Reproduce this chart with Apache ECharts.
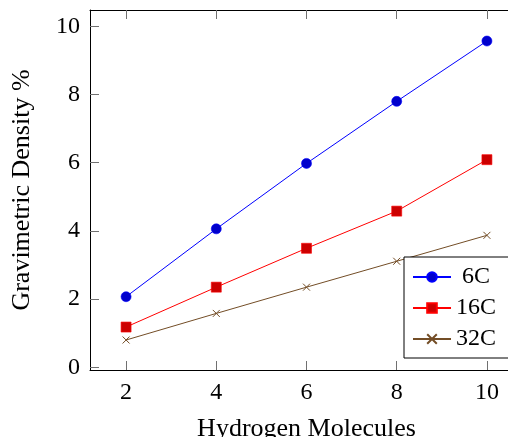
<!DOCTYPE html>
<html>
<head>
<meta charset="utf-8">
<script src="https://cdn.jsdelivr.net/npm/echarts@6/dist/echarts.min.js"></script>
<style>
html,body{margin:0;padding:0;background:#fff;}
#chart{width:508px;height:437px;}
</style>
</head>
<body>
<div id="chart"></div>
<script>
// ---- data ----
const xValues = [2, 4, 6, 8, 10];
const series6C = [2.07, 4.06, 5.98, 7.80, 9.57];
const series16C = [1.18, 2.35, 3.49, 4.58, 6.09];
const series32C = [0.80, 1.58, 2.35, 3.11, 3.87];
const xTicks = [2, 4, 6, 8, 10];
const yTicks = [0, 2, 4, 6, 8, 10];
const seriesNames = ['6C', '16C', '32C'];

const FONT = '"Liberation Serif", "Times New Roman", serif';
const chart = echarts.init(document.getElementById('chart'), null, {renderer: 'canvas'});

function pairs(vals) { return xValues.map((x, i) => [x, vals[i]]); }

const tickStyle = {show: true, inside: true, length: 9, lineStyle: {color: '#707070', width: 1}};
const axisLineStyle = {show: true, onZero: false, lineStyle: {color: '#000', width: 1}};

const option = {
  animation: false,
  backgroundColor: '#fff',
  grid: {left: 90, top: 10, width: 433, height: 360, containLabel: false, outerBoundsMode: 'none'},
  xAxis: [
    {
      type: 'value', min: 1.2, max: 10.8, position: 'bottom',
      axisLine: axisLineStyle,
      axisTick: Object.assign({customValues: xTicks}, tickStyle),
      axisLabel: {customValues: xTicks, margin: 11, fontFamily: FONT, fontSize: 24, color: '#000'},
      splitLine: {show: false},
      name: 'Hydrogen Molecules', nameLocation: 'middle', nameGap: 46,
      nameTextStyle: {fontFamily: FONT, fontSize: 26, color: '#000'}
    },
    {
      type: 'value', min: 1.2, max: 10.8, position: 'top',
      axisLine: axisLineStyle,
      axisTick: Object.assign({customValues: xTicks}, tickStyle),
      axisLabel: {show: false},
      splitLine: {show: false}
    }
  ],
  yAxis: [
    {
      type: 'value', min: -0.08, max: 10.48, position: 'left',
      axisLine: axisLineStyle,
      axisTick: Object.assign({customValues: yTicks}, tickStyle),
      axisLabel: {customValues: yTicks, margin: 10, fontFamily: FONT, fontSize: 24, color: '#000'},
      splitLine: {show: false},
      name: 'Gravimetric Density %', nameLocation: 'middle', nameGap: 55, nameRotate: 90,
      nameTextStyle: {fontFamily: FONT, fontSize: 26, color: '#000'}
    },
    {
      type: 'value', min: -0.08, max: 10.48, position: 'right',
      axisLine: axisLineStyle,
      axisTick: Object.assign({customValues: yTicks}, tickStyle),
      axisLabel: {show: false},
      splitLine: {show: false}
    }
  ],
  legend: {
    orient: 'vertical', left: 404, top: 257,
    data: seriesNames,
    backgroundColor: '#fff', borderColor: '#000', borderWidth: 1, borderRadius: 0,
    padding: [8, 30, 7, 8],
    itemWidth: 38, itemHeight: 12, itemGap: 7,
    formatter: '{a|{name}}',
    textStyle: {
      fontFamily: FONT, fontSize: 24, color: '#000',
      rich: {a: {fontFamily: FONT, fontSize: 24, color: '#000', width: 40, align: 'center', lineHeight: 24}}
    }
  },
  series: [
    {
      name: seriesNames[0], type: 'line', data: pairs(series6C),
      symbol: 'circle', symbolSize: 10,
      lineStyle: {color: '#0000FF', width: 1},
      itemStyle: {color: '#0000CC', borderColor: '#0000FF', borderWidth: 0.6},
      z: 5
    },
    {
      name: seriesNames[1], type: 'line', data: pairs(series16C),
      symbol: 'rect', symbolSize: 10,
      lineStyle: {color: '#FF0000', width: 1},
      itemStyle: {color: '#CC0000', borderColor: '#FF0000', borderWidth: 0.6},
      z: 4
    },
    {
      name: seriesNames[2], type: 'line', data: pairs(series32C),
      symbol: 'path://M0,0L10,10M10,0L0,10', symbolSize: 7,
      lineStyle: {color: '#734D26', width: 1},
      itemStyle: {color: 'rgba(0,0,0,0)', borderColor: '#734D26', borderWidth: 1},
      z: 3
    }
  ]
};
chart.setOption(option);
</script>
</body>
</html>
